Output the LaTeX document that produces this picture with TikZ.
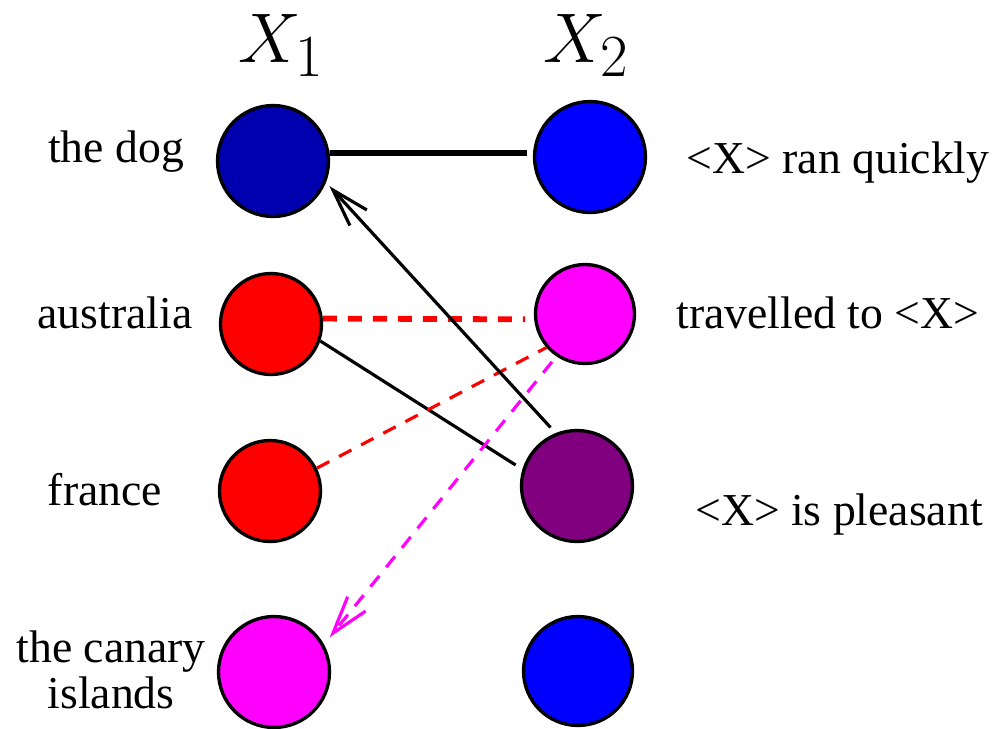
\RequirePackage{fix-cm}
\documentclass[tikz,border=0pt]{standalone}
\usepackage[no-math]{fontspec}
\newfontfamily\serifa{LiberationSerif}[Extension=.ttf,UprightFont=*-Regular]
\usepackage{tikz}
\usetikzlibrary{arrows.meta}
\DeclareMathSizes{40}{40}{34}{28}
\definecolor{azuloscuro}{HTML}{0000AF}
\definecolor{azul}{HTML}{0000FF}
\definecolor{rojo}{HTML}{FF0000}
\definecolor{rosa}{HTML}{FF00FF}
\definecolor{morado}{HTML}{800080}
\tikzset{
  nodo/.style={circle,draw=black,line width=1.9pt,minimum size=2.22cm,inner sep=0pt},
  nodochico/.style={nodo,minimum size=2.02cm},
  enlace/.style={line width=1.8pt},
  enlacegrueso/.style={line width=3.3pt},
  discontinua/.style={dash pattern=on 0.28cm off 0.22cm},
  flecha/.style={-{Straight Barb[length=7.5mm,width=4.6mm,line width=1.8pt]},line width=1.8pt},
  etiqueta/.style={font=\serifa\fontsize{26}{26}\selectfont,inner sep=0pt,anchor=base,align=center},
  titulo/.style={font=\fontsize{40}{48}\selectfont,inner sep=0pt,anchor=base},
}
\begin{document}
\begin{tikzpicture}[x=0.02cm,y=-0.02cm]
  \useasboundingbox (0,0) rectangle (998,728);
  % columna X1
  \node[nodo,fill=azuloscuro] (dog) at (273,161) {};
  \node[nodochico,fill=rojo] (aus) at (271,324) {};
  \node[nodochico,fill=rojo] (fr) at (270,491) {};
  \node[nodo,fill=rosa] (can) at (274,672) {};
  % columna X2
  \node[nodo,fill=azul] (ran) at (590,157) {};
  \node[nodochico,fill=rosa,minimum size=1.98cm] (tra) at (585,314) {};
  \node[nodo,fill=morado] (ple) at (577,486) {};
  \node[nodo,fill=azul,minimum size=2.18cm] (vac) at (578,671) {};
  % enlaces
  \draw[enlacegrueso,shorten >=0.12cm] (dog.8) -- (ran.176);
  \draw[enlacegrueso,rojo,discontinua,shorten >=0.18cm] (aus.6) -- (tra.186);
  \draw[enlace,shorten >=0.16cm] (aus.-19) -- (ple.163);
  \draw[enlace,rojo,discontinua] (fr.26) -- (tra.221);
  \draw[flecha,shorten <=0.15cm,shorten >=0.1cm] (ple.112) -- (dog.-22);
  \draw[flecha,rosa,discontinua,shorten <=0.14cm,shorten >=0.18cm] (tra.236) -- (can.29);
  % textos
  \node[titulo] (x1) at (281,62) {$X_1$};
  \node[titulo] (x2) at (586,62) {$X_2$};
  \node[etiqueta] (tdog) at (116,162) {the dog};
  \node[etiqueta] (taus) at (115,328) {australia};
  \node[etiqueta] (tfr) at (105,505) {france};
  \node[etiqueta] (tcan) at (111,708) {the canary\\islands};
  \node[etiqueta] (tran) at (838,173) {<X> ran quickly};
  \node[etiqueta] (ttra) at (828,328) {travelled to <X>};
  \node[etiqueta] (tple) at (839,525) {<X> is pleasant};
\end{tikzpicture}
\end{document}
